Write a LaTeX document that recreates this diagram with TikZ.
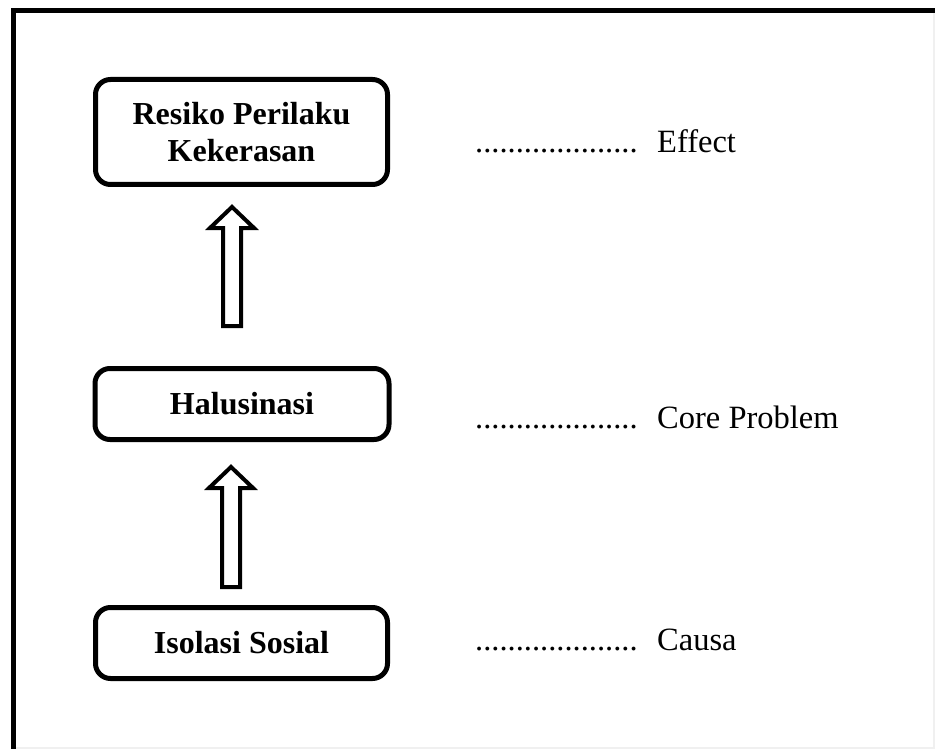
\documentclass[tikz,border=0pt]{standalone}
\usepackage{fontspec}
\setmainfont{Liberation Serif}
\usetikzlibrary{calc}
\tikzset{
  box/.style={draw=black, line width=5pt, rounded corners=15pt, fill=white,
    align=center, inner sep=0pt, font=\fontsize{32}{37}\selectfont\bfseries},
  lbl/.style={anchor=base west, inner sep=0pt, font=\fontsize{32.5}{37}\selectfont},
  arrowline/.style={draw=black, line width=4pt, line join=miter, fill=white},
  frameline/.style={draw=black, line width=5pt}
}
\newcommand{\blockarr}[2]{%
  \draw[arrowline] ($(#1)+(-9,0)$) -- ($(#2)+(-9,-21)$) -- ($(#2)+(-22,-21)$)
    -- (#2) -- ($(#2)+(22,-21)$) -- ($(#2)+(9,-21)$) -- ($(#1)+(9,0)$) -- cycle;}
\begin{document}
\begin{tikzpicture}[x=1pt,y=1pt]
\useasboundingbox[fill=white] (0,0) rectangle (935,-749);
% frame
\coordinate (fTL) at (13.5,-10.5);
\coordinate (fTR) at (935,-10.5);
\coordinate (fBL) at (13.5,-749);
\draw[frameline] (fTR) -- (fTL) -- (fBL);
\draw[black!6, line width=1.5pt] (934,-13) -- (934,-749);
\draw[black!6, line width=1.5pt] (16,-748) -- (935,-748);
% boxes
\node[box, minimum width=292pt, minimum height=105pt] (rpk) at (241.5,-132)
  {Resiko Perilaku\\Kekerasan};
\node[box, minimum width=294pt, minimum height=71pt] (hal) at (242,-404) {Halusinasi};
\node[box, minimum width=292pt, minimum height=71pt] (iso) at (241.5,-643) {Isolasi Sosial};
% arrows
\coordinate (a1b) at (232,-326);
\coordinate (a1t) at (232,-207);
\coordinate (a2b) at (231,-587);
\coordinate (a2t) at (231,-467);
\blockarr{a1b}{a1t}
\blockarr{a2b}{a2t}
% labels
\node[lbl] (d1) at (475,-153) {....................};
\node[lbl] (t1) at (657,-153) {Effect};
\node[lbl] (d2) at (475,-428) {....................};
\node[lbl] (t2) at (657,-428) {Core Problem};
\node[lbl] (d3) at (475,-650) {....................};
\node[lbl] (t3) at (657,-650) {Causa};
\end{tikzpicture}
\end{document}
